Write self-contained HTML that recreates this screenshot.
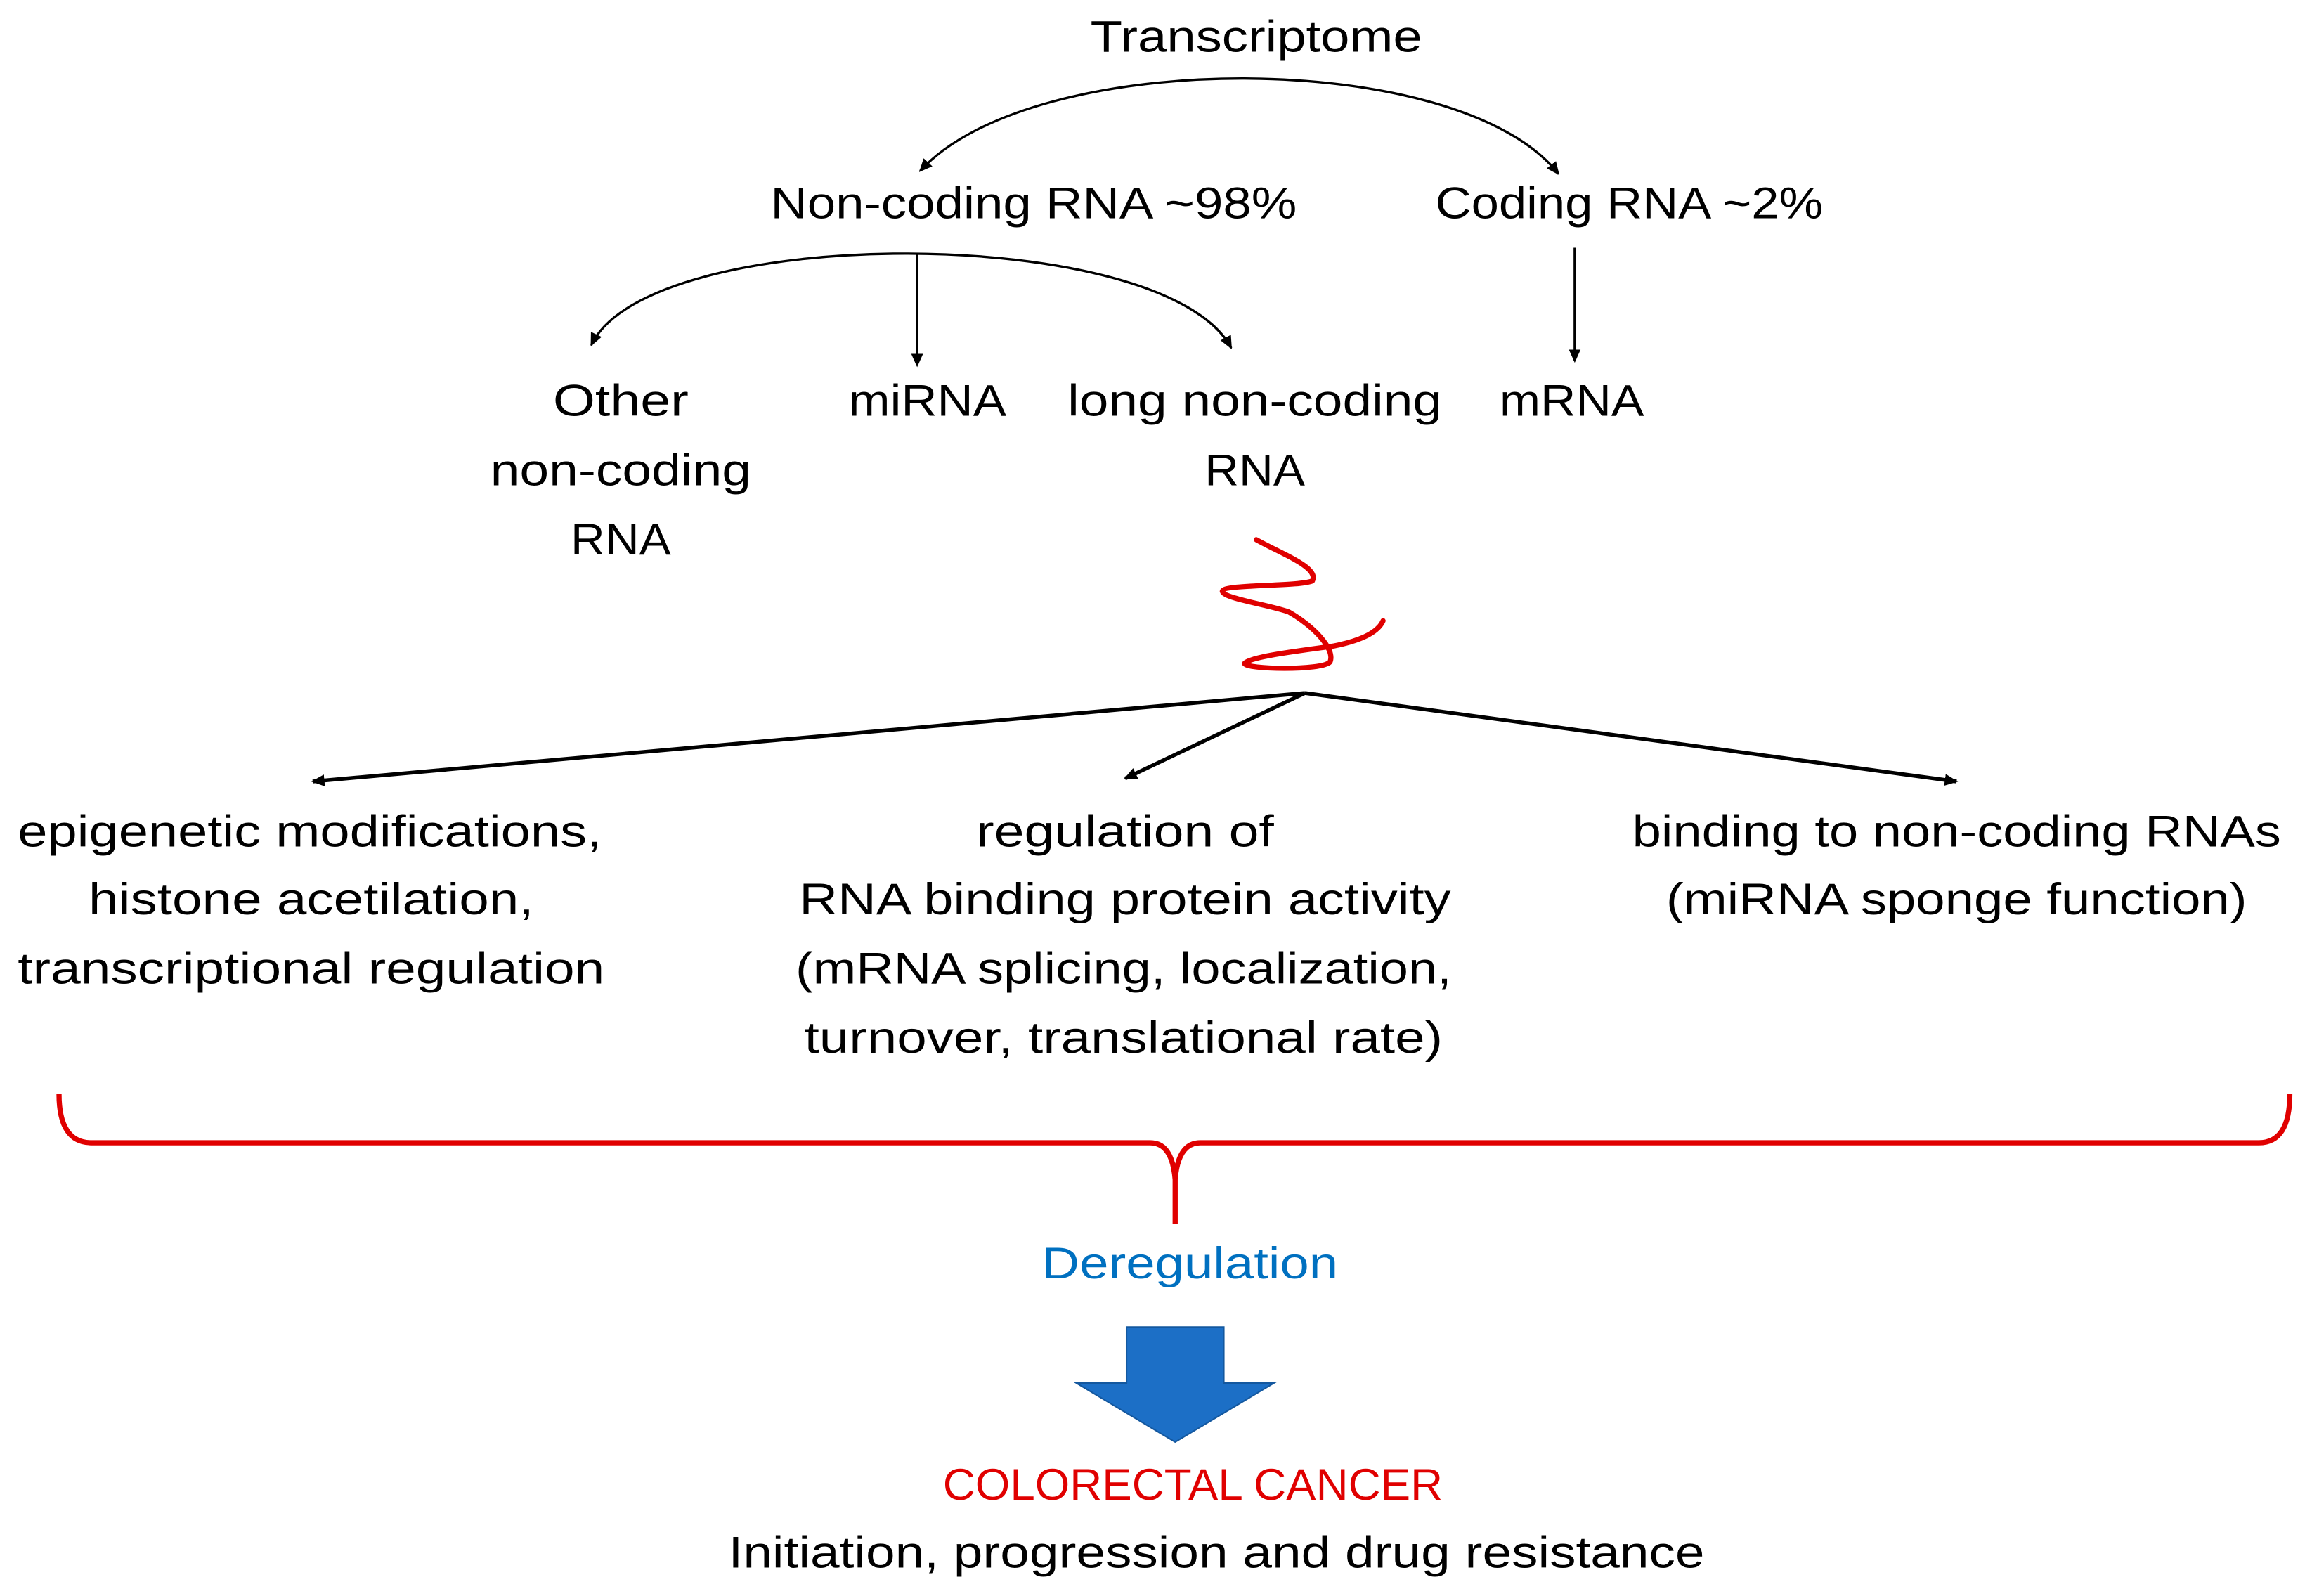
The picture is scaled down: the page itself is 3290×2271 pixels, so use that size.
<!DOCTYPE html>
<html><head><meta charset="utf-8"><style>
html,body{margin:0;padding:0;background:#fff;}
svg{display:block;}
text{font-family:"Liberation Sans",Arial,sans-serif;font-size:30px;fill:#000;}
</style></head><body>
<svg width="3290" height="2271" viewBox="0 0 1568 1082.4" xmlns="http://www.w3.org/2000/svg">
<defs>
<marker id="ah" markerWidth="10" markerHeight="10" refX="8" refY="5" orient="auto" markerUnits="userSpaceOnUse">
<path d="M0,1 L9,5 L0,9 z" fill="#000"/>
</marker>
<marker id="ahs" markerWidth="10" markerHeight="10" refX="1" refY="5" orient="auto" markerUnits="userSpaceOnUse">
<path d="M9,1 L0,5 L9,9 z" fill="#000"/>
</marker>
</defs>
<rect width="1568" height="1083" fill="#fff"/>
<g fill="none" stroke="#000" stroke-width="1.6">
<path d="M624 116 C700 32,990 32,1057 118" marker-start="url(#ahs)" marker-end="url(#ah)"/>
<line x1="1068" y1="168" x2="1068" y2="245" marker-end="url(#ah)"/>
<path d="M401 234 C440 151,790 151,835 236" marker-start="url(#ahs)" marker-end="url(#ah)"/>
<line x1="622" y1="172" x2="622" y2="248" marker-end="url(#ah)"/>
</g>
<g fill="none" stroke="#000" stroke-width="2.6">
<line x1="885" y1="470" x2="212" y2="530" marker-end="url(#ah)"/>
<line x1="885" y1="470" x2="763" y2="528" marker-end="url(#ah)"/>
<line x1="885" y1="470" x2="1327" y2="530" marker-end="url(#ah)"/>
</g>
<path d="M852 366 C870 376,895 385,890 394 C880 398,830 396,829 401 C830 406,860 410,874 415 C890 424,906 440,902 449 C896 455,845 454,844 450 C848 445,885 441,905 438 C925 434,935 428,938 421" fill="none" stroke="#e00000" stroke-width="3.5" stroke-linecap="round"/>
<path d="M40 742 Q40 775 62 775 L780 775 Q795 775 797 800 L797 830 M797 800 Q799 775 814 775 L1532 775 Q1553 775 1553 742" fill="none" stroke="#e00000" stroke-width="3.5"/>
<path d="M764 900 L830 900 L830 938 L864 938 L797 978 L730 938 L764 938 z" fill="#1c6fc6" stroke="#14589f" stroke-width="1"/>
<g text-anchor="middle">
<text x="852" y="35" textLength="225" lengthAdjust="spacingAndGlyphs">Transcriptome</text>
<text x="701" y="148" textLength="357" lengthAdjust="spacingAndGlyphs">Non-coding RNA ~98%</text>
<text x="1105" y="148" textLength="263" lengthAdjust="spacingAndGlyphs">Coding RNA ~2%</text>
<text x="421" y="282" textLength="92" lengthAdjust="spacingAndGlyphs">Other</text>
<text x="421" y="329" textLength="177" lengthAdjust="spacingAndGlyphs">non-coding</text>
<text x="421" y="376" textLength="68" lengthAdjust="spacingAndGlyphs">RNA</text>
<text x="629" y="282" textLength="107" lengthAdjust="spacingAndGlyphs">miRNA</text>
<text x="851" y="282" textLength="254" lengthAdjust="spacingAndGlyphs">long non-coding</text>
<text x="851" y="329" textLength="68" lengthAdjust="spacingAndGlyphs">RNA</text>
<text x="1066" y="282" textLength="98" lengthAdjust="spacingAndGlyphs">mRNA</text>
<text x="210" y="574" textLength="396" lengthAdjust="spacingAndGlyphs">epigenetic modifications,</text>
<text x="211" y="620" textLength="302" lengthAdjust="spacingAndGlyphs">histone acetilation,</text>
<text x="211" y="667" textLength="398" lengthAdjust="spacingAndGlyphs">transcriptional regulation</text>
<text x="763" y="574" textLength="202" lengthAdjust="spacingAndGlyphs">regulation of</text>
<text x="763" y="620" textLength="442" lengthAdjust="spacingAndGlyphs">RNA binding protein activity</text>
<text x="762" y="667" textLength="445" lengthAdjust="spacingAndGlyphs">(mRNA splicing, localization,</text>
<text x="762" y="714" textLength="433" lengthAdjust="spacingAndGlyphs">turnover, translational rate)</text>
<text x="1327" y="574" textLength="440" lengthAdjust="spacingAndGlyphs">binding to non-coding RNAs</text>
<text x="1327" y="620" textLength="394" lengthAdjust="spacingAndGlyphs">(miRNA sponge function)</text>
<text x="807" y="867" textLength="201" lengthAdjust="spacingAndGlyphs" style="fill:#0070c0">Deregulation</text>
<text x="809" y="1017" textLength="339" lengthAdjust="spacingAndGlyphs" style="fill:#e00000">COLORECTAL CANCER</text>
<text x="825" y="1063" textLength="662" lengthAdjust="spacingAndGlyphs">Initiation, progression and drug resistance</text>
</g>
</svg>
</body></html>
